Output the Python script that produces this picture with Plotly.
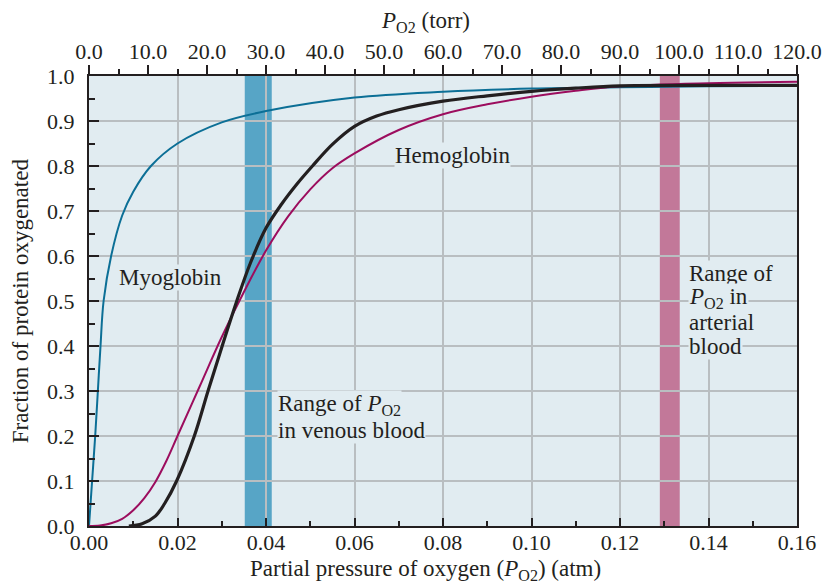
import plotly.graph_objects as go

# partial pressure in atm (bottom axis) and fraction oxygenated
myo_x = [0.0, 0.0007, 0.0014, 0.0020, 0.0026, 0.0033, 0.0050, 0.0075, 0.0100, 0.0140,
         0.0200, 0.0300, 0.0400, 0.0600, 0.0800, 0.1000, 0.1200, 0.1400, 0.1570]
myo_y = [0.0, 0.10, 0.20, 0.30, 0.40, 0.50, 0.60, 0.69, 0.743, 0.80,
         0.85, 0.897, 0.922, 0.952, 0.965, 0.972, 0.975, 0.977, 0.978]

hb_x = [0.009, 0.012, 0.015, 0.0171, 0.0198, 0.0238, 0.0269, 0.0301, 0.0334, 0.0365,
        0.040, 0.0435, 0.047, 0.0505, 0.055, 0.060, 0.065, 0.070, 0.080, 0.090,
        0.100, 0.110, 0.120, 0.140, 0.160]
hb_y = [0.0, 0.005, 0.022, 0.05, 0.10, 0.20, 0.30, 0.40, 0.50, 0.585,
        0.662, 0.715, 0.76, 0.80, 0.848, 0.888, 0.911, 0.925, 0.944, 0.956,
        0.966, 0.973, 0.978, 0.979, 0.979]

hb2_x = [0.0, 0.0025, 0.005, 0.0075, 0.010, 0.0125, 0.015, 0.0175, 0.020, 0.025,
         0.030, 0.035, 0.040, 0.045, 0.050, 0.055, 0.060, 0.070, 0.080, 0.090,
         0.100, 0.110, 0.120, 0.140, 0.160]
hb2_y = [0.0, 0.001, 0.006, 0.016, 0.035, 0.062, 0.098, 0.145, 0.20, 0.31,
         0.42, 0.52, 0.612, 0.688, 0.748, 0.795, 0.828, 0.88, 0.915, 0.937,
         0.954, 0.967, 0.977, 0.984, 0.987]

venous_range = [0.0352, 0.0413]
arterial_range = [0.1290, 0.1335]

x_ticks = [0.0, 0.02, 0.04, 0.06, 0.08, 0.10, 0.12, 0.14, 0.16]
y_ticks = [0.0, 0.1, 0.2, 0.3, 0.4, 0.5, 0.6, 0.7, 0.8, 0.9, 1.0]
torr_range = [0, 120]

INK = "#231F20"
BG = "#E1ECF1"
GRID = "#B9BEC1"
FONT = "Liberation Serif"

fig = go.Figure()

fig.add_trace(go.Scatter(x=myo_x, y=myo_y, mode="lines", line_shape="spline",
                         line=dict(color="#0C6F96", width=2)))
fig.add_trace(go.Scatter(x=hb2_x, y=hb2_y, mode="lines", line_shape="spline",
                         line=dict(color="#9C0D5E", width=2)))
fig.add_trace(go.Scatter(x=hb_x, y=hb_y, mode="lines", line_shape="spline",
                         line=dict(color=INK, width=3.2)))
# helper so the torr axis gets drawn
fig.add_trace(go.Scatter(x=torr_range, y=[None, None], xaxis="x2",
                         hoverinfo="skip"))

fig.add_shape(type="rect", xref="x", yref="paper", x0=venous_range[0], x1=venous_range[1],
              y0=0, y1=1, fillcolor="#57A5C6", line_width=0, layer="between")
fig.add_shape(type="rect", xref="x", yref="paper", x0=arterial_range[0], x1=arterial_range[1],
              y0=0, y1=1, fillcolor="#C27899", line_width=0, layer="between")

def label(text, x, y, size=23):
    fig.add_annotation(x=x, y=y, xref="x", yref="y", text=text, showarrow=False,
                       xanchor="left", yanchor="middle", bgcolor=BG, borderpad=0,
                       font=dict(family=FONT, size=size, color=INK))

label("Myoglobin", 0.0065, 0.552)
label("Hemoglobin", 0.069, 0.823)
label("Range of <i>P</i><sub>O2</sub>", 0.0425, 0.268)
label("in venous blood", 0.0425, 0.213)
label("Range of", 0.1353, 0.562)
label("<i>P</i><sub>O2</sub> in", 0.1353, 0.506)
label("arterial", 0.1353, 0.452)
label("blood", 0.1353, 0.398)

axis_font = dict(family=FONT, size=23, color=INK)
fig.add_annotation(x=0.475, y=-0.098, xref="paper", yref="paper", showarrow=False,
                   xanchor="center", yanchor="middle",
                   text="Partial pressure of oxygen (<i>P</i><sub>O2</sub>) (atm)",
                   font=axis_font)
fig.add_annotation(x=0.475, y=1.12, xref="paper", yref="paper", showarrow=False,
                   xanchor="center", yanchor="middle",
                   text="<i>P</i><sub>O2</sub> (torr)", font=axis_font)
fig.add_annotation(x=-0.097, y=0.5, xref="paper", yref="paper", showarrow=False,
                   xanchor="center", yanchor="middle", textangle=-90,
                   text="Fraction of protein oxygenated", font=axis_font)

tick_font = dict(family=FONT, size=22, color=INK)
fig.update_layout(
    width=830, height=583,
    margin=dict(l=81, r=41, t=68, b=65, autoexpand=False),
    paper_bgcolor="white", plot_bgcolor=BG,
    showlegend=False,
    xaxis=dict(range=[0, 0.16], tickvals=x_ticks, tickformat=".2f", ticks="inside",
               ticklen=8, tickwidth=2, tickcolor=INK, showline=True, linewidth=2,
               linecolor=INK, showgrid=True, gridcolor=GRID, gridwidth=1.5,
               zeroline=False, tickfont=tick_font, ticklabelstandoff=-4, automargin=False,
               minor=dict(dtick=0.01, ticks="inside", ticklen=5, tickwidth=2,
                          tickcolor=INK, showgrid=False)),
    xaxis2=dict(range=torr_range, overlaying="x", side="top", dtick=10, tickformat=".1f",
                ticks="outside", ticklen=9, tickwidth=2, tickcolor=INK, showline=True,
                linewidth=2, linecolor=INK, showgrid=False, zeroline=False,
                tickfont=tick_font, ticklabelstandoff=-3, automargin=False,
                minor=dict(dtick=5, ticks="outside", ticklen=5, tickwidth=2,
                           tickcolor=INK, showgrid=False)),
    yaxis=dict(range=[0, 1], tickvals=y_ticks, tickformat=".1f", ticks="inside",
               ticklen=10, tickwidth=2, tickcolor=INK, showline=True, linewidth=2,
               linecolor=INK, mirror=True, showgrid=True, gridcolor=GRID, gridwidth=1.5,
               zeroline=False, tickfont=tick_font, ticklabelstandoff=8, automargin=False,
               minor=dict(dtick=0.05, ticks="inside", ticklen=6, tickwidth=2,
                          tickcolor=INK, showgrid=False)),
)

fig.write_html("out.html")
